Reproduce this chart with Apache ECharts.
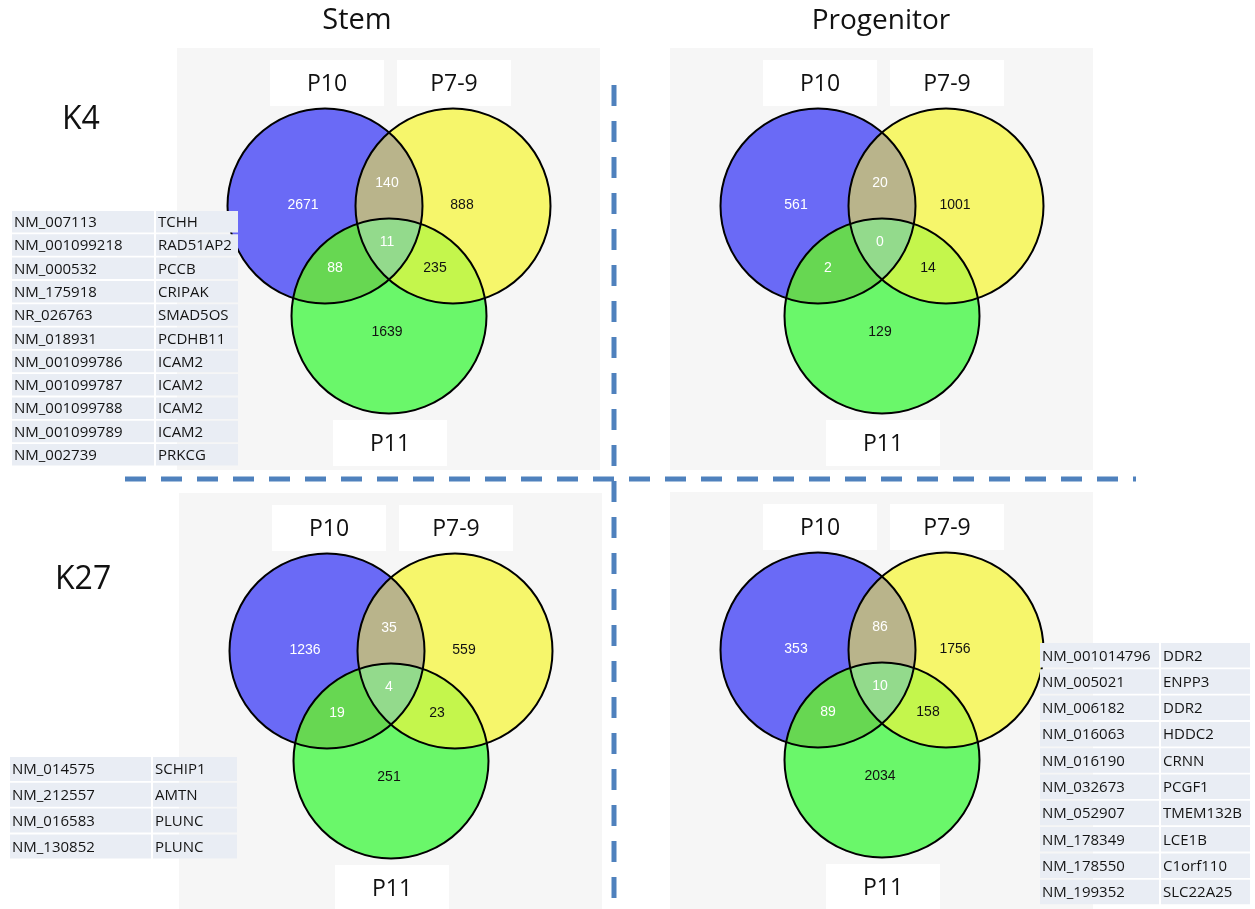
<!DOCTYPE html>
<html>
<head>
<meta charset="utf-8">
<script src="https://cdn.jsdelivr.net/npm/echarts@6/dist/echarts.min.js"></script>
<style>
  html, body { margin: 0; padding: 0; background: #ffffff; }
  #main { width: 1255px; height: 909px; }
</style>
</head>
<body>
<div id="main"></div>
<script>
// ---- Data -------------------------------------------------------------
const setNames = ['P10', 'P7-9', 'P11'];
// Region order: P10 only, P7-9 only, P11 only, P10∩P7-9, P10∩P11, P7-9∩P11, all three
const regionKeys = ['P10', 'P7-9', 'P11', 'P10&P7-9', 'P10&P11', 'P7-9&P11', 'P10&P7-9&P11'];

const k4Stem        = [2671, 888, 1639, 140, 88, 235, 11];
const k4Progenitor  = [561, 1001, 129, 20, 2, 14, 0];
const k27Stem       = [1236, 559, 251, 35, 19, 23, 4];
const k27Progenitor = [353, 1756, 2034, 86, 89, 158, 10];

const columnTitles = ['Stem', 'Progenitor'];
const rowTitles = ['K4', 'K27'];

// Transcripts shared by all three stages
const k4StemIds = ['NM_007113', 'NM_001099218', 'NM_000532', 'NM_175918', 'NR_026763', 'NM_018931',
                   'NM_001099786', 'NM_001099787', 'NM_001099788', 'NM_001099789', 'NM_002739'];
const k4StemGenes = ['TCHH', 'RAD51AP2', 'PCCB', 'CRIPAK', 'SMAD5OS', 'PCDHB11',
                     'ICAM2', 'ICAM2', 'ICAM2', 'ICAM2', 'PRKCG'];
const k27StemIds = ['NM_014575', 'NM_212557', 'NM_016583', 'NM_130852'];
const k27StemGenes = ['SCHIP1', 'AMTN', 'PLUNC', 'PLUNC'];
const k27ProgIds = ['NM_001014796', 'NM_005021', 'NM_006182', 'NM_016063', 'NM_016190',
                    'NM_032673', 'NM_052907', 'NM_178349', 'NM_178550', 'NM_199352'];
const k27ProgGenes = ['DDR2', 'ENPP3', 'DDR2', 'HDDC2', 'CRNN',
                      'PCGF1', 'TMEM132B', 'LCE1B', 'C1orf110', 'SLC22A25'];

// ---- Styling / layout ---------------------------------------------------
const regionColors = ['#6a6af6', '#f6f66b', '#6af76a', '#b9b48b', '#67d752', '#c4f64c', '#93da8c'];
const labelColors  = ['#ffffff', '#111111', '#111111', '#ffffff', '#ffffff', '#111111', '#ffffff'];
// label offsets from the diagram anchor (midpoint of the two upper circle centres)
const labelOffsets = [[-86, -1], [73, -1], [-2, 126], [-2, -23], [-54, 62], [46, 62], [-2, 36]];
const R = 97.5, HALF = 64, DROP = 110;
const numFont = '14px "Liberation Sans", Arial, sans-serif';
const textFont = '"Open Sans", "Noto Sans", sans-serif';

const anchors = { k4Stem: [389, 206], k4Prog: [882, 206], k27Stem: [391, 651], k27Prog: [882, 650] };

// ---- Venn geometry ------------------------------------------------------
function inside(c, p) { return Math.hypot(p[0] - c.x, p[1] - c.y) < c.r; }
function intersect(a, b) {
  const dx = b.x - a.x, dy = b.y - a.y, d = Math.hypot(dx, dy);
  const l = d / 2, h = Math.sqrt(a.r * a.r - l * l);
  const mx = a.x + dx / 2, my = a.y + dy / 2, ux = -dy / d, uy = dx / d;
  return [[mx + ux * h, my + uy * h], [mx - ux * h, my - uy * h]];
}
function vennGeometry(anchor) {
  const [ax, ay] = anchor;
  const C = [{ x: ax - HALF, y: ay, r: R }, { x: ax + HALF, y: ay, r: R }, { x: ax, y: ay + DROP, r: R }];
  const ab = intersect(C[0], C[1]).sort((p, q) => p[1] - q[1]);
  const ABt = ab[0], ABb = ab[1];
  const ac = intersect(C[0], C[2]);
  const ACi = inside(C[1], ac[0]) ? ac[0] : ac[1], ACo = ACi === ac[0] ? ac[1] : ac[0];
  const bc = intersect(C[1], C[2]);
  const BCi = inside(C[0], bc[0]) ? bc[0] : bc[1], BCo = BCi === bc[0] ? bc[1] : bc[0];

  // arc on circle k from p1 to p2, direction chosen so its midpoint has the region's membership
  function arc(k, p1, p2, m) {
    const c = C[k];
    const a1 = Math.atan2(p1[1] - c.y, p1[0] - c.x), a2 = Math.atan2(p2[1] - c.y, p2[0] - c.x);
    let cw = a2 - a1; while (cw <= 0) cw += 2 * Math.PI;
    const options = [[cw, 1], [cw - 2 * Math.PI, 0]];
    for (const [delta, sweep] of options) {
      const am = a1 + delta / 2, mid = [c.x + c.r * Math.cos(am), c.y + c.r * Math.sin(am)];
      let ok = true;
      for (let j = 0; j < 3; j++) if (j !== k && inside(C[j], mid) !== !!m[j]) ok = false;
      if (ok) {
        const large = Math.abs(delta) > Math.PI ? 1 : 0;
        return ' A ' + c.r + ' ' + c.r + ' 0 ' + large + ' ' + sweep + ' ' + p2[0].toFixed(2) + ' ' + p2[1].toFixed(2);
      }
    }
    return ' L ' + p2[0] + ' ' + p2[1];
  }
  const defs = [
    [[1, 0, 0], [[0, ABt, ACo], [2, ACo, BCi], [1, BCi, ABt]]],
    [[0, 1, 0], [[1, ABt, BCo], [2, BCo, ACi], [0, ACi, ABt]]],
    [[0, 0, 1], [[2, ACo, BCo], [1, BCo, ABb], [0, ABb, ACo]]],
    [[1, 1, 0], [[0, ABt, ACi], [2, ACi, BCi], [1, BCi, ABt]]],
    [[1, 0, 1], [[0, ACo, ABb], [1, ABb, BCi], [2, BCi, ACo]]],
    [[0, 1, 1], [[1, BCo, ABb], [0, ABb, ACi], [2, ACi, BCo]]],
    [[1, 1, 1], [[0, ACi, ABb], [1, ABb, BCi], [2, BCi, ACi]]]
  ];
  const paths = defs.map(([m, segs]) => {
    let d = 'M ' + segs[0][1][0].toFixed(2) + ' ' + segs[0][1][1].toFixed(2);
    segs.forEach(([k, p1, p2]) => { d += arc(k, p1, p2, m); });
    return d + ' Z';
  });
  return { circles: C, paths: paths };
}

function vennSeries(values, anchor) {
  const geo = vennGeometry(anchor);
  return {
    type: 'custom', coordinateSystem: 'none', silent: true, animation: false, z: 3,
    data: values.map((v, i) => [i, v]),
    renderItem: function (params, api) {
      const i = api.value(0), v = api.value(1);
      const off = labelOffsets[i];
      const children = [
        { type: 'path', shape: { pathData: geo.paths[i] }, style: { fill: regionColors[i], stroke: null }, z2: 0 },
        { type: 'text', z2: 20, style: { text: String(v), x: anchor[0] + off[0], y: anchor[1] + off[1],
          fill: labelColors[i], font: numFont, align: 'center', verticalAlign: 'middle' } }
      ];
      if (i === 0) {
        geo.circles.forEach(c => children.push({ type: 'circle', z2: 10,
          shape: { cx: c.x, cy: c.y, r: c.r }, style: { fill: null, stroke: '#000000', lineWidth: 2 } }));
      }
      return { type: 'group', children: children };
    }
  };
}

// ---- Gene tables ---------------------------------------------------------
function tableSeries(ids, genes, t) {
  return {
    type: 'custom', coordinateSystem: 'none', silent: true, animation: false, z: 8,
    data: ids.map((id, i) => [i]),
    renderItem: function (params) {
      const i = params.dataIndex, y = t.top + i * t.pitch;
      const x2 = t.x + t.w1 + 2;
      return { type: 'group', children: [
        { type: 'rect', shape: { x: t.x, y: y, width: t.w1, height: t.h }, style: { fill: '#e9edf4' } },
        { type: 'rect', shape: { x: x2, y: y, width: t.w2, height: t.h }, style: { fill: '#e9edf4' } },
        { type: 'text', style: { text: ids[i], x: t.x + 2, y: y + t.h / 2 + 1, fill: '#141414',
          font: '15px ' + textFont, verticalAlign: 'middle' } },
        { type: 'text', style: { text: genes[i], x: x2 + 2, y: y + t.h / 2 + 1, fill: '#141414',
          font: '15px ' + textFont, verticalAlign: 'middle' } }
      ] };
    }
  };
}

// ---- Static decorations --------------------------------------------------
const graphics = [];
Object.keys(anchors).forEach(key => {
  const [ax, ay] = anchors[key];
  const bottom = Math.min(ay + 264, 909);
  graphics.push({ type: 'rect', z: 0, shape: { x: ax - 212, y: ay - 158, width: 423, height: bottom - (ay - 158) },
    style: { fill: '#f6f6f6' } });
  const boxes = [[ax - 119, ay - 146, setNames[0]], [ax + 8, ay - 146, setNames[1]], [ax - 56, ay + 214, setNames[2]]];
  boxes.forEach(([bx, by, name]) => {
    graphics.push({ type: 'rect', z: 1, shape: { x: bx, y: by, width: 114, height: 46 }, style: { fill: '#ffffff' } });
    graphics.push({ type: 'text', z: 2, style: { text: name, x: bx + 57, y: by + 24, fill: '#111111',
      font: '23px ' + textFont, align: 'center', verticalAlign: 'middle' } });
  });
});
graphics.push({ type: 'text', z: 2, style: { text: columnTitles[0], x: 357, y: 21, fill: '#111111',
  font: '29px ' + textFont, align: 'center', verticalAlign: 'middle' } });
graphics.push({ type: 'text', z: 2, style: { text: columnTitles[1], x: 881, y: 21, fill: '#111111',
  font: '28px ' + textFont, align: 'center', verticalAlign: 'middle' } });
graphics.push({ type: 'text', z: 2, style: { text: rowTitles[0], x: 62, y: 120, fill: '#111111',
  font: '32px ' + textFont, verticalAlign: 'middle' } });
graphics.push({ type: 'text', z: 2, style: { text: rowTitles[1], x: 55, y: 580, fill: '#111111',
  font: '32px ' + textFont, verticalAlign: 'middle' } });
// quadrant dividers
graphics.push({ type: 'line', z: 5, shape: { x1: 125, y1: 479, x2: 1136, y2: 479 },
  style: { stroke: '#4f81bd', lineWidth: 5, lineDash: [21, 15] } });
graphics.push({ type: 'line', z: 5, shape: { x1: 614, y1: 85, x2: 614, y2: 909 },
  style: { stroke: '#4f81bd', lineWidth: 5, lineDash: [21, 15] } });

const chart = echarts.init(document.getElementById('main'), null, { renderer: 'canvas', width: 1255, height: 909 });
chart.setOption({
  animation: false,
  backgroundColor: '#ffffff',
  graphic: { elements: graphics },
  series: [
    vennSeries(k4Stem, anchors.k4Stem),
    vennSeries(k4Progenitor, anchors.k4Prog),
    vennSeries(k27Stem, anchors.k27Stem),
    vennSeries(k27Progenitor, anchors.k27Prog),
    tableSeries(k4StemIds, k4StemGenes, { x: 12, top: 211, pitch: 23.3, h: 21.5, w1: 142, w2: 82 }),
    tableSeries(k27StemIds, k27StemGenes, { x: 10, top: 757, pitch: 25.8, h: 24, w1: 141, w2: 84 }),
    tableSeries(k27ProgIds, k27ProgGenes, { x: 1040, top: 643, pitch: 26.3, h: 24.5, w1: 119, w2: 89 })
  ]
});
</script>
</body>
</html>
